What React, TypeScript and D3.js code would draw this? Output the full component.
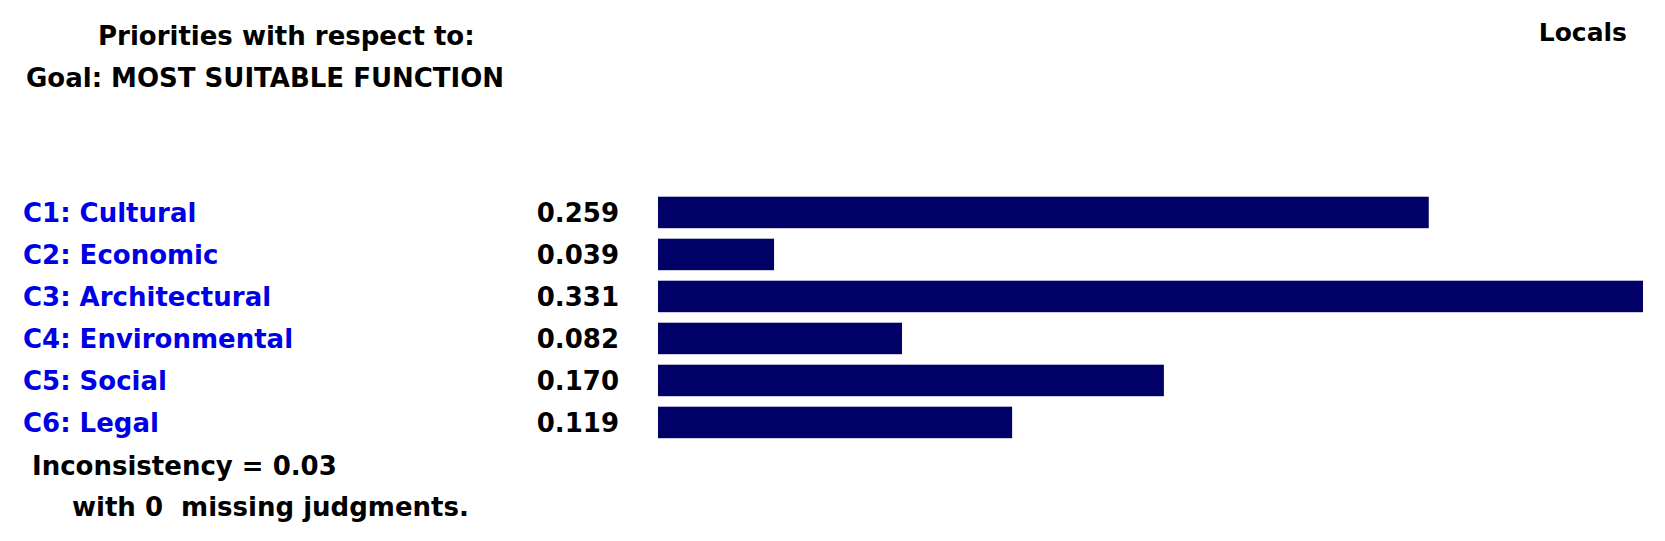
import React from 'react';
import * as d3 from 'd3';

// criteria and their local priorities
const criteria = [
  'C1: Cultural',
  'C2: Economic',
  'C3: Architectural',
  'C4: Environmental',
  'C5: Social',
  'C6: Legal',
];
const priorities = [0.259, 0.039, 0.331, 0.082, 0.17, 0.119];
const titleLines = ['Priorities with respect to:', 'Goal: MOST SUITABLE FUNCTION'];
const footerLines = ['Inconsistency = 0.03', 'with 0  missing judgments.'];

const width = 1665;
const height = 541;
const font = '"DejaVu Sans", Verdana, sans-serif';

export default function App() {
  const x = d3
    .scaleLinear()
    .domain([0, d3.max(priorities) as number])
    .range([658, 1643]);
  const y = d3
    .scaleBand<string>()
    .domain(criteria)
    .range([196.7, 438.2])
    .paddingInner(0.25)
    .paddingOuter(0);
  const fmt = d3.format('.3f');

  return (
    <svg
      width={width}
      height={height}
      style={{ position: 'absolute', left: 0, top: 0, background: '#fff' }}
      fontFamily={font}
      fontWeight="bold"
    >
      <text x={98} y={45} fontSize={26} fill="#000">
        {titleLines[0]}
      </text>
      <text x={26} y={87} fontSize={26} fill="#000">
        {titleLines[1]}
      </text>
      <text x={1627} y={41} fontSize={25} fill="#000" textAnchor="end">
        Locals
      </text>

      {criteria.map((c, i) => {
        const yc = (y(c) as number) + y.bandwidth() / 2;
        return (
          <g key={c}>
            <text x={23} y={yc + 10} fontSize={26} fill="#0000e6">
              {c}
            </text>
            <text x={619} y={yc + 10} fontSize={26} fill="#000" textAnchor="end">
              {fmt(priorities[i])}
            </text>
            <rect
              x={x(0)}
              y={y(c)}
              width={x(priorities[i]) - x(0)}
              height={y.bandwidth()}
              fill="#000066"
            />
          </g>
        );
      })}

      <text x={32} y={475} fontSize={26} fill="#000">
        {footerLines[0]}
      </text>
      <text x={72} y={516} fontSize={26} fill="#000" xmlSpace="preserve">
        {footerLines[1]}
      </text>
    </svg>
  );
}
